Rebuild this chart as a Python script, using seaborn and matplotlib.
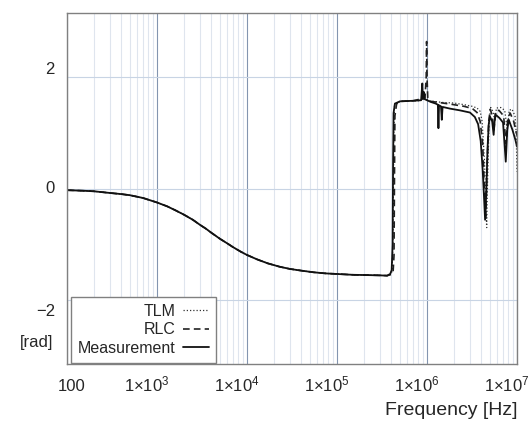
import numpy as np
import pandas as pd
import matplotlib
matplotlib.use("Agg")
import matplotlib.pyplot as plt
import seaborn as sns

# --- data (frequency in Hz, phase in rad) ---
freq_low = [100, 150, 200, 300, 400, 500, 700, 1e3, 1.3e3, 1.6e3, 2e3, 2.5e3, 3e3,
            3.5e3, 4e3, 5e3, 6e3, 7e3, 8.5e3, 1e4, 1.3e4, 1.7e4, 2.3e4, 3e4, 4e4,
            5.5e4, 7.5e4, 1e5, 1.5e5, 2.2e5, 3e5]
phase_low = [-0.03, -0.04, -0.05, -0.08, -0.10, -0.12, -0.17, -0.25, -0.32, -0.39,
             -0.47, -0.56, -0.65, -0.72, -0.79, -0.90, -0.98, -1.05, -1.13, -1.19,
             -1.27, -1.34, -1.40, -1.44, -1.47, -1.50, -1.52, -1.53, -1.545, -1.55, -1.555]

freq_meas = [3.6e5, 3.9e5, 4.05e5, 4.15e5, 4.2e5, 4.25e5, 4.4e5, 5e5, 7e5, 8.6e5,
             8.87e5, 9.0e5, 9.2e5, 9.4e5, 1.0e6, 1.1e6, 1.25e6, 1.32e6, 1.34e6, 1.36e6,
             1.43e6, 1.46e6, 1.49e6, 1.8e6, 2.3e6, 3.0e6, 3.4e6, 3.7e6, 3.95e6, 4.15e6,
             4.3e6, 4.42e6, 4.55e6, 4.7e6, 4.85e6, 5.0e6, 5.3e6, 5.5e6, 5.65e6, 5.8e6,
             6.4e6, 7.0e6, 7.5e6, 7.8e6, 8.1e6, 8.9e6, 9.6e6, 1e7]
phase_meas = [-1.56, -1.53, -1.46, -1.0, 0.5, 1.35, 1.52, 1.56, 1.57, 1.58,
              1.88, 1.60, 1.73, 1.60, 1.58, 1.55, 1.52, 1.50, 1.08, 1.49,
              1.47, 1.23, 1.46, 1.43, 1.40, 1.36, 1.28, 1.15, 0.85, 0.35,
              -0.15, -0.56, -0.10, 0.70, 1.15, 1.29, 1.20, 0.96, 1.22, 1.32,
              1.26, 1.18, 0.48, 1.05, 1.23, 1.05, 0.87, 0.75]

freq_rlc = [3.6e5, 4.0e5, 4.2e5, 4.3e5, 4.35e5, 4.4e5, 4.6e5, 5e5, 7e5, 9.5e5,
            9.8e5, 9.9e5, 1.0e6, 1.02e6, 1.1e6, 1.5e6, 2.0e6, 2.6e6, 3.2e6, 3.6e6,
            3.9e6, 4.15e6, 4.35e6, 4.5e6, 4.65e6, 4.85e6, 5.05e6, 5.3e6, 5.55e6, 5.75e6,
            6.3e6, 7.1e6, 7.55e6, 7.9e6, 8.4e6, 9.2e6, 1e7]
phase_rlc = [-1.56, -1.54, -1.49, -1.2, 0.2, 1.3, 1.52, 1.56, 1.57, 1.62,
             2.0, 2.63, 2.0, 1.60, 1.56, 1.53, 1.50, 1.47, 1.43, 1.36,
             1.20, 0.80, 0.0, -0.50, 0.40, 1.20, 1.42, 1.30, 1.05, 1.38,
             1.40, 1.30, 0.80, 1.25, 1.35, 1.20, 0.95]

freq_tlm = [3.6e5, 4.0e5, 4.1e5, 4.2e5, 4.28e5, 4.35e5, 5e5, 8e5, 9.7e5, 1.05e6,
            1.5e6, 2.0e6, 2.6e6, 3.2e6, 3.6e6, 3.9e6, 4.1e6, 4.35e6, 4.5e6, 4.6e6,
            4.72e6, 4.9e6, 5.1e6, 5.4e6, 5.7e6, 5.9e6, 6.6e6, 7.3e6, 7.8e6, 8.2e6,
            8.8e6, 9.5e6, 9.8e6, 1e7]
phase_tlm = [-1.56, -1.53, -1.47, -0.8, 0.9, 1.48, 1.56, 1.57, 1.62, 1.57,
             1.54, 1.53, 1.50, 1.47, 1.44, 1.38, 1.20, 0.50, -0.20, -0.70,
             0.20, 1.20, 1.45, 1.38, 1.20, 1.44, 1.45, 1.40, 1.05, 1.40,
             1.42, 1.30, 1.00, 0.30]

series_names = ["TLM", "RLC", "Measurement"]
x_ticks = [1e2, 1e3, 1e4, 1e5, 1e6, 1e7]
x_tick_labels = ["100", "1×10$^{3}$", "1×10$^{4}$", "1×10$^{5}$", "1×10$^{6}$", "1×10$^{7}$"]
y_ticks = [-2, 0, 2]
y_tick_labels = ["\u22122", "0", "2"]

df = pd.concat([
    pd.DataFrame({"freq": freq_low + freq_tlm, "phase": phase_low + phase_tlm, "model": "TLM"}),
    pd.DataFrame({"freq": freq_low + freq_rlc, "phase": phase_low + phase_rlc, "model": "RLC"}),
    pd.DataFrame({"freq": freq_low + freq_meas, "phase": phase_low + phase_meas, "model": "Measurement"}),
], ignore_index=True)

sns.set_style("white")
plt.rcParams["font.family"] = ["Liberation Sans", "DejaVu Sans"]
plt.rcParams["mathtext.fontset"] = "custom"
plt.rcParams["mathtext.rm"] = "Liberation Sans"
plt.rcParams["mathtext.it"] = "Liberation Sans:italic"
plt.rcParams["mathtext.bf"] = "Liberation Sans:bold"

fig, ax = plt.subplots(figsize=(5.31, 4.21), dpi=100)
fig.subplots_adjust(left=67 / 531, right=517 / 531, bottom=1 - 364 / 421, top=1 - 13 / 421)

styles = {
    "TLM": dict(color="#333333", lw=0.9, ls=(0, (1, 1.6))),
    "RLC": dict(color="#222222", lw=1.2, ls=(0, (4, 2.5))),
    "Measurement": dict(color="#111111", lw=1.3, ls="-"),
}
for name in series_names:
    sub = df[df["model"] == name]
    st = styles[name]
    sns.lineplot(data=sub, x="freq", y="phase", ax=ax, estimator=None, sort=True,
                 color=st["color"], linewidth=st["lw"], linestyle=st["ls"], label=name)

ax.set_xscale("log")
ax.set_xlim(1e2, 1e7)
ax.set_ylim(-np.pi, np.pi)
ax.set_xlabel("")
ax.set_ylabel("")

# grid: decades darker, minor lighter, horizontal light blue
ax.set_xticks(x_ticks, labels=[""] * len(x_ticks))
ax.set_yticks(y_ticks, labels=[""] * len(y_ticks))
ax.xaxis.set_minor_locator(matplotlib.ticker.LogLocator(base=10, subs=np.arange(2, 10)))
ax.xaxis.set_minor_formatter(matplotlib.ticker.NullFormatter())
ax.grid(which="major", axis="x", color="#8395b0", lw=0.8)
ax.grid(which="minor", axis="x", color="#dfe5ee", lw=0.8)
ax.grid(which="major", axis="y", color="#c8d4e4", lw=0.8)
ax.tick_params(which="both", length=0)
ax.set_axisbelow(True)
for sp in ax.spines.values():
    sp.set_color("#808080")
    sp.set_linewidth(1.0)

# tick labels, placed like the original (slightly irregular)
for xv, lab in zip(x_ticks, x_tick_labels):
    dx = 5 if xv == 1e2 else -10
    ax.annotate(lab, xy=(xv, 0), xycoords=ax.get_xaxis_transform(),
                xytext=(dx, -27), textcoords="offset pixels",
                ha="center", va="baseline", fontsize=12)
for yv, lab in zip(y_ticks, y_tick_labels):
    dy = {-2: -11, 0: 0, 2: 7}[yv]
    ax.annotate(lab, xy=(0, yv), xycoords=ax.get_yaxis_transform(),
                xytext=(-12, dy), textcoords="offset pixels",
                ha="right", va="center", fontsize=12)
ax.text(-0.031, 0.06, "[rad]", transform=ax.transAxes, ha="right", va="center", fontsize=12)
ax.text(1.002, -0.145, "Frequency [Hz]", transform=ax.transAxes, ha="right", va="baseline", fontsize=14)

leg = ax.legend(loc="lower left", bbox_to_anchor=(0.009, 0.003), borderaxespad=0,
                markerfirst=False, fontsize=11.5, handlelength=1.6, handletextpad=0.45,
                labelspacing=0.22, borderpad=0.45, fancybox=False, framealpha=1,
                edgecolor="#808080")
leg.get_frame().set_linewidth(1.0)

fig.savefig("out.png", dpi=100)
plt.close(fig)
